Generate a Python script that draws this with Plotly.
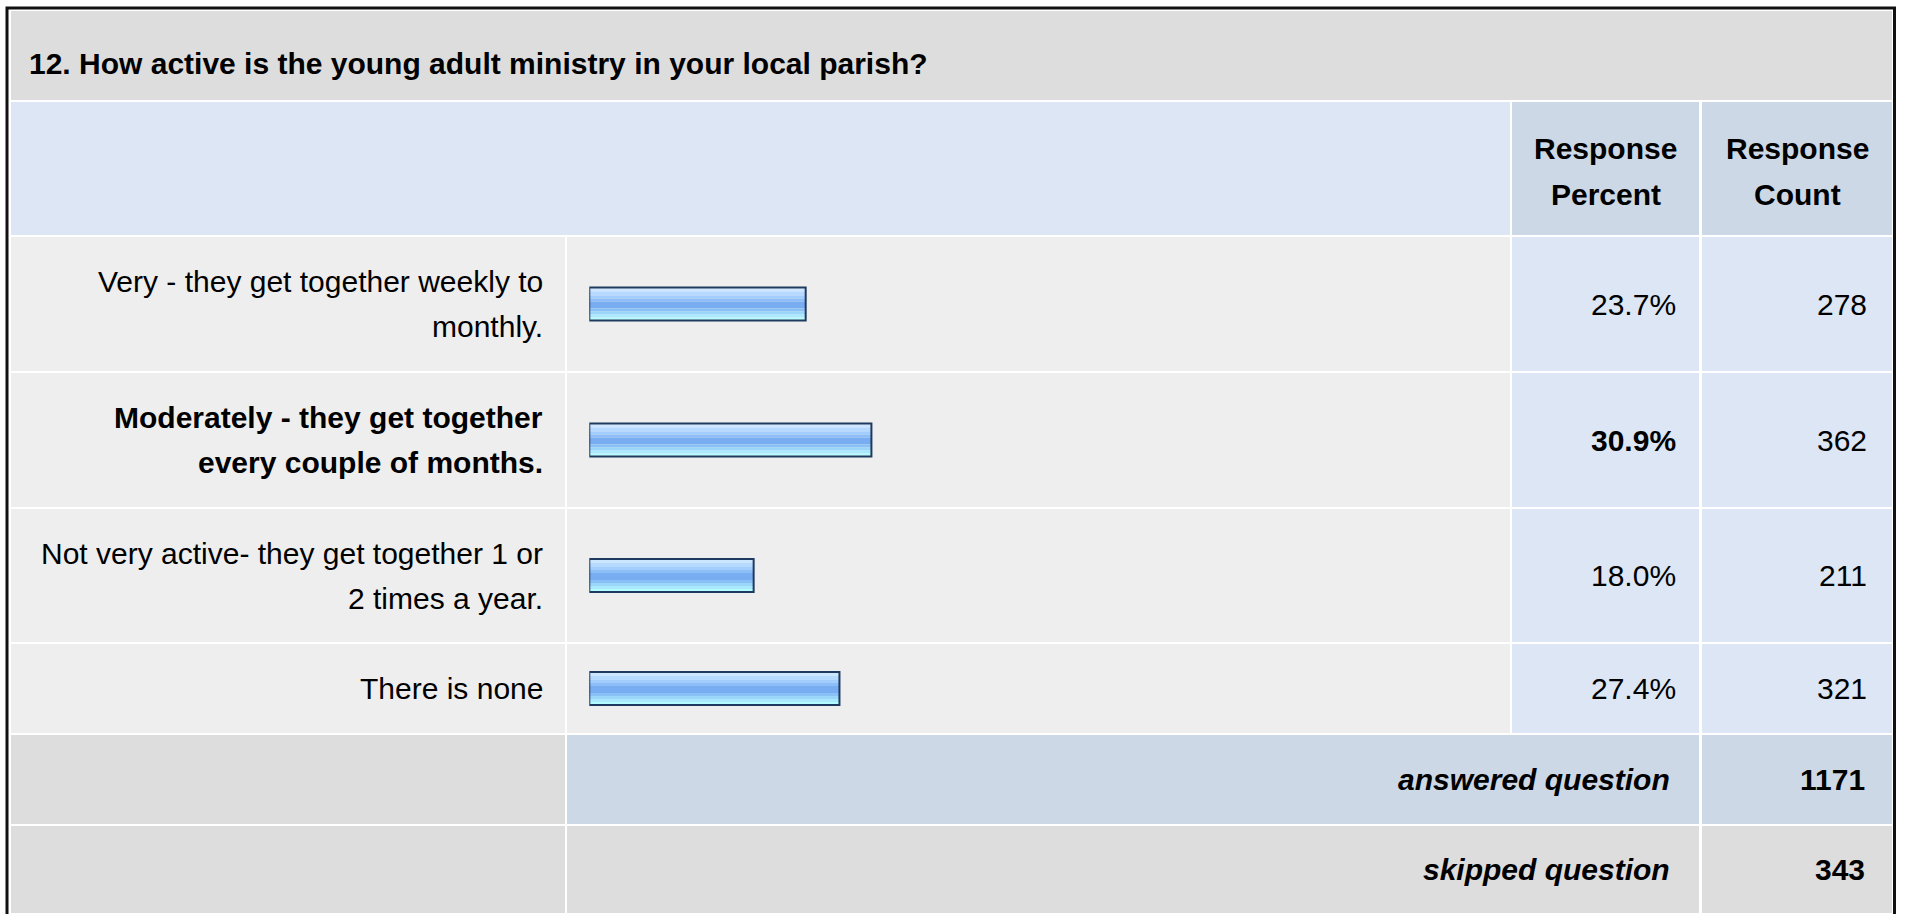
import plotly.graph_objects as go

# ---------------- data ----------------
question = "12. How active is the young adult ministry in your local parish?"
answer_labels = [
    "Very - they get together weekly to|monthly.",
    "Moderately - they get together|every couple of months.",
    "Not very active- they get together 1 or|2 times a year.",
    "There is none",
]
answer_bold = [False, True, False, False]
response_percent = [23.7, 30.9, 18.0, 27.4]
response_count = [278, 362, 211, 321]
header_percent = ["Response", "Percent"]
header_count = ["Response", "Count"]
answered_label = "answered question"
answered_total = 1171
skipped_label = "skipped question"
skipped_total = 343

# ---------------- layout constants (pixels) ----------------
W, H = 1907, 914
FONT = "Liberation Sans, Arial, Helvetica, sans-serif"
FS = 30
LINE = 45

colA = (11, 565)
colB = (567, 1510)
colC = (1512, 1699)
colD = (1702, 1892)

row_title = (11, 100)
row_header = (102, 235)
data_rows = [(237, 371), (373, 507), (509, 642), (644, 733)]
row_answered = (735, 824)
row_skipped = (826, 913)

GREY_DARK = "#dddddd"
GREY_LIGHT = "#eeeeee"
BLUE_LIGHT = "#dce6f4"
BLUE_MID = "#ccd8e6"

BAR_X0 = 589.3
BAR_PX_PER_PCT = 9.13


def fx(x):
    return x / W


def fy(y):
    return 1 - y / H


shapes = []


def cell(xr, yr, color):
    shapes.append(dict(type="rect", xref="paper", yref="paper",
                       x0=fx(xr[0]), x1=fx(xr[1]), y0=fy(yr[0]), y1=fy(yr[1]),
                       fillcolor=color, line=dict(width=0), layer="below"))


# title row
cell((colA[0], colD[1]), row_title, GREY_DARK)
# header row
cell((colA[0], colB[1]), row_header, BLUE_LIGHT)
cell(colC, row_header, BLUE_MID)
cell(colD, row_header, BLUE_MID)
# data rows
for r in data_rows:
    cell(colA, r, GREY_LIGHT)
    cell(colB, r, GREY_LIGHT)
    cell(colC, r, BLUE_LIGHT)
    cell(colD, r, BLUE_LIGHT)
# answered
cell(colA, row_answered, GREY_DARK)
cell((colB[0], colC[1]), row_answered, BLUE_MID)
cell(colD, row_answered, BLUE_MID)
# skipped
cell(colA, row_skipped, GREY_DARK)
cell((colB[0], colC[1]), row_skipped, GREY_DARK)
cell(colD, row_skipped, GREY_DARK)

# outer black frame
shapes.append(dict(type="rect", xref="paper", yref="paper",
                   x0=fx(7), x1=fx(1894.5), y0=fy(8), y1=fy(918),
                   fillcolor="rgba(0,0,0,0)", line=dict(color="#111111", width=3),
                   layer="above"))

annotations = []


def text(s, x, y, anchor, bold=False, italic=False):
    if bold:
        s = "<b>" + s + "</b>"
    if italic:
        s = "<i>" + s + "</i>"
    annotations.append(dict(text=s, x=fx(x), y=fy(y), xref="paper", yref="paper",
                            xanchor=anchor, yanchor="middle", showarrow=False,
                            font=dict(family=FONT, size=FS, color="#000000")))


def mid(r):
    return (r[0] + r[1]) / 2


# title
text(question, 27, mid(row_title) + 8, "left", bold=True)
# headers
for lines, col in ((header_percent, colC), (header_count, colD)):
    c = mid(row_header) + 3
    for i, ln in enumerate(lines):
        text(ln, mid(col), c + (i - (len(lines) - 1) / 2) * LINE, "center", bold=True)

# data rows
row_centers = [mid(r) for r in data_rows]
for lab, b, p, n, c in zip(answer_labels, answer_bold, response_percent, response_count, row_centers):
    lines = lab.split("|")
    for i, ln in enumerate(lines):
        text(ln, colA[1] - 20, c + (i - (len(lines) - 1) / 2) * LINE, "right", bold=b)
    text(f"{p:.1f}%", colC[1] - 21, c, "right", bold=b)
    text(str(n), colD[1] - 23, c, "right")

text(answered_label, colC[1] - 27, mid(row_answered), "right", bold=True, italic=True)
text(str(answered_total), colD[1] - 25, mid(row_answered), "right", bold=True)
text(skipped_label, colC[1] - 27, mid(row_skipped), "right", bold=True, italic=True)
text(str(skipped_total), colD[1] - 25, mid(row_skipped), "right", bold=True)

# ---------------- bars (gradient via stacked stripes) ----------------
BAR_H = 35
stripes = [
    (2, 5, "#cde6ff"),
    (5, 9, "#b6d9ff"),
    (9, 12, "#a2cdfc"),
    (12, 15, "#8ebef7"),
    (15, 22, "#79adf1"),
    (22, 25, "#89c1f6"),
    (25, 28, "#9ad5fa"),
    (28, 31, "#aae8fe"),
    (31, 33, "#b4fbff"),
]
fig = go.Figure()
for t0, t1, col in stripes:
    fig.add_trace(go.Bar(x=response_percent, y=row_centers, orientation="h",
                         width=t1 - t0, offset=t0 - BAR_H / 2,
                         marker=dict(color=col, line=dict(width=0)),
                         hoverinfo="skip"))
fig.add_trace(go.Bar(x=response_percent, y=row_centers, orientation="h",
                     width=BAR_H - 2, offset=-(BAR_H - 2) / 2,
                     marker=dict(color="rgba(0,0,0,0)", line=dict(color="#1f3a60", width=2)),
                     hoverinfo="skip"))

fig.update_layout(
    width=W, height=H, autosize=False,
    margin=dict(l=0, r=0, t=0, b=0, pad=0),
    paper_bgcolor="#ffffff", plot_bgcolor="rgba(0,0,0,0)",
    barmode="overlay", showlegend=False, hovermode=False,
    xaxis=dict(domain=[fx(BAR_X0), fx(BAR_X0 + 100 * BAR_PX_PER_PCT)], range=[0, 100],
               visible=False, fixedrange=True),
    yaxis=dict(domain=[0, 1], range=[H, 0], visible=False, fixedrange=True),
    shapes=shapes, annotations=annotations,
)

fig.write_html("out.html", config={"displayModeBar": False},
               post_script="document.body.style.margin='0';document.body.style.overflow='hidden';")
